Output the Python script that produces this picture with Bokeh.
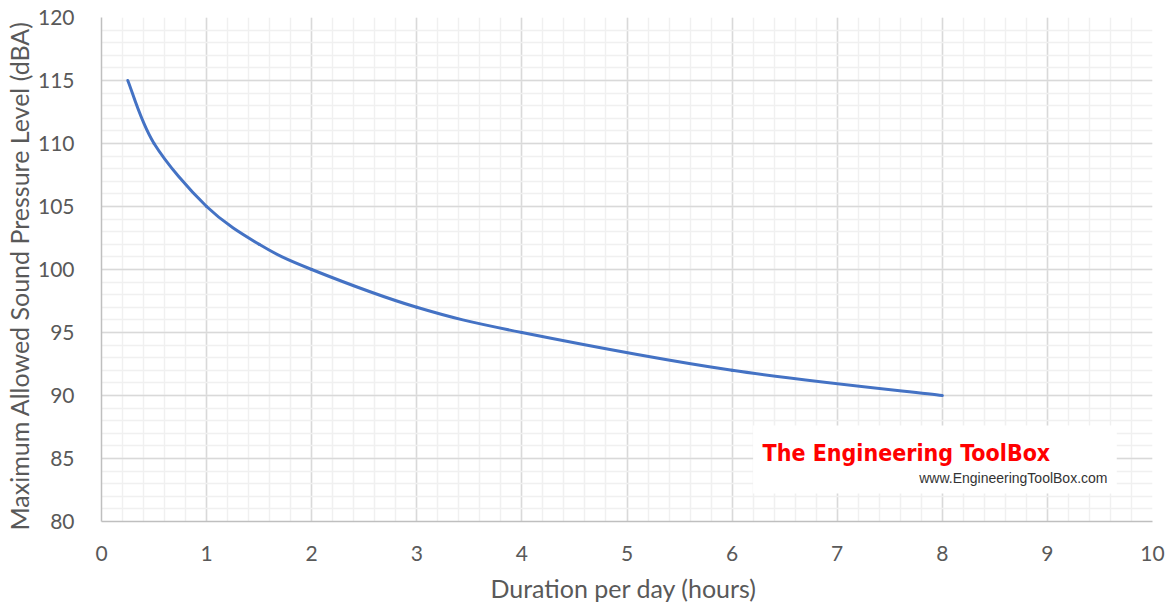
from bokeh.plotting import figure
from bokeh.models import FixedTicker, Range1d, Label, BoxAnnotation
from bokeh.embed import file_html
from bokeh.resources import INLINE

# Data (OSHA permissible noise exposure)
hours = [0.25, 0.5, 1.0, 1.5, 2.0, 3.0, 4.0, 6.0, 8.0]
dba = [115, 110, 105, 102, 100, 97, 95, 92, 90]

x_ticks = [0, 1, 2, 3, 4, 5, 6, 7, 8, 9, 10]
y_ticks = [80, 85, 90, 95, 100, 105, 110, 115, 120]

W, H = 1170, 605
p = figure(width=W, height=H, output_backend="svg", toolbar_location=None,
           x_range=Range1d(0, 10), y_range=Range1d(80, 120),
           min_border_left=101, min_border_right=18, min_border_top=17, min_border_bottom=84)
p.outline_line_color = None
p.background_fill_color = "white"

# Smooth curve (Catmull-Rom style, like spreadsheet smoothed lines) built from the data
n = len(hours)
x0s, y0s, x1s, y1s, cx0, cy0, cx1, cy1 = [], [], [], [], [], [], [], []
for i in range(n - 1):
    xm = hours[i - 1] if i > 0 else hours[i]
    ym = dba[i - 1] if i > 0 else dba[i]
    xp = hours[i + 2] if i + 2 < n else hours[i + 1]
    yp = dba[i + 2] if i + 2 < n else dba[i + 1]
    x0s.append(hours[i]); y0s.append(dba[i])
    x1s.append(hours[i + 1]); y1s.append(dba[i + 1])
    cx0.append(hours[i] + (hours[i + 1] - xm) / 6.0)
    cy0.append(dba[i] + (dba[i + 1] - ym) / 6.0)
    cx1.append(hours[i + 1] - (xp - hours[i]) / 6.0)
    cy1.append(dba[i + 1] - (yp - dba[i]) / 6.0)
p.bezier(x0=x0s, y0=y0s, x1=x1s, y1=y1s, cx0=cx0, cy0=cy0, cx1=cx1, cy1=cy1,
         line_color="#4472C4", line_width=3, line_cap="round")

# Axes and grids
p.xaxis.ticker = FixedTicker(ticks=x_ticks, minor_ticks=[i * 0.2 for i in range(51)])
p.yaxis.ticker = FixedTicker(ticks=y_ticks, minor_ticks=list(range(80, 121)))
for ax in (p.xaxis, p.yaxis):
    ax.axis_line_color = "#bfbfbf"
    ax.axis_line_width = 1.5
    ax.major_tick_line_color = None
    ax.minor_tick_line_color = None
    ax.major_label_text_color = "#595959"
    ax.major_label_text_font = "Lato"
    ax.major_label_text_font_size = "21px"
    ax.axis_label_text_color = "#595959"
    ax.axis_label_text_font = "Lato"
    ax.axis_label_text_font_size = "25px"
    ax.axis_label_text_font_style = "normal"
p.xaxis.axis_label = "Duration  per day (hours)"
p.yaxis.axis_label = "Maximum Allowed  Sound  Pressure Level (dBA)"
p.xaxis.major_label_standoff = 18
p.yaxis.major_label_standoff = 21
p.xaxis.axis_label_standoff = 9
p.yaxis.axis_label_standoff = 1

for g in (p.xgrid, p.ygrid):
    g.grid_line_color = "#d9d9d9"
    g.grid_line_width = 1.5
    g.minor_grid_line_color = "#f0f0f0"
    g.minor_grid_line_width = 1.5

# Watermark
p.add_layout(BoxAnnotation(left=6.2, right=9.66, bottom=82.22, top=87.62,
                           fill_color="white", fill_alpha=1.0, line_color=None))
p.add_layout(Label(x=6.29, y=84.4, text="The Engineering ToolBox",
                   text_font="DejaVu Sans Condensed", text_font_style="bold",
                   text_font_size="23px", text_color="#ff0000"))
p.add_layout(Label(x=7.78, y=82.85, text="www.EngineeringToolBox.com",
                   text_font="Liberation Sans", text_font_size="14px", text_color="#333333"))

open("out.html", "w").write(file_html(p, INLINE))
